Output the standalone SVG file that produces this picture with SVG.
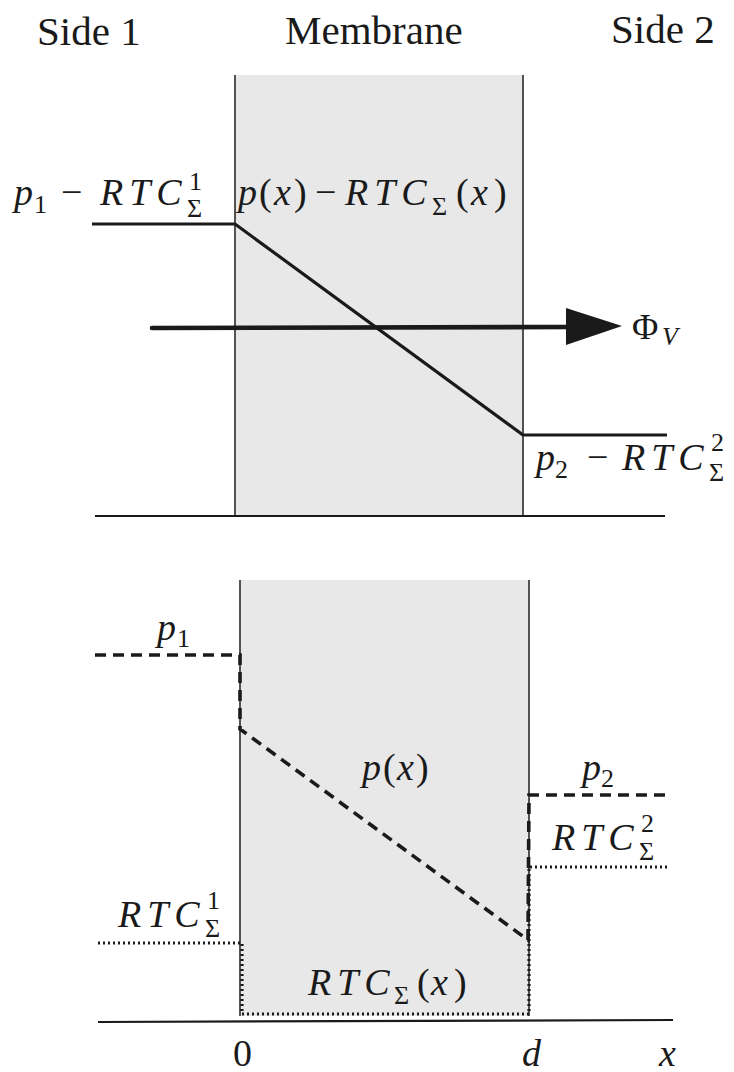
<svg xmlns="http://www.w3.org/2000/svg" width="734" height="1072" viewBox="0 0 734 1072">
<style>
text{font-family:"Liberation Serif","Times New Roman",serif;fill:#1a1a1a}
.hd{font-size:41px}
.m{font-size:38px}
.i{font-style:italic}
.rt{font-style:italic;letter-spacing:6px}
.s{font-size:26px}
.mem{fill:#e8e8e8}
.edge{stroke:#2a2a2a;stroke-width:1.6;fill:none}
.base{stroke:#1a1a1a;stroke-width:2.2;fill:none}
.solid{stroke:#1a1a1a;stroke-width:3.2;fill:none;stroke-linejoin:round}
.dash{stroke:#1a1a1a;stroke-width:3.6;fill:none;stroke-dasharray:11 7}
.dot{stroke:#1a1a1a;stroke-width:3.2;fill:none;stroke-dasharray:2 3}
</style>
<rect width="734" height="1072" fill="#ffffff"/>

<g id="headers">
<text class="hd" x="37" y="45">Side 1</text>
<text class="hd" x="285" y="44">Membrane</text>
<text class="hd" x="611" y="43">Side 2</text>
</g>

<g id="membrane-top">
<rect class="mem" x="235" y="75" width="288" height="441"/>
<line class="edge" x1="235" y1="75" x2="235" y2="516"/>
<line class="edge" x1="523" y1="75" x2="523" y2="516"/>
</g>

<g id="membrane-bottom">
<rect class="mem" x="240" y="580" width="289" height="436"/>
<line class="edge" x1="240" y1="580" x2="240" y2="1016"/>
<line class="edge" x1="529" y1="580" x2="529" y2="1016"/>
</g>

<g id="axes">
<line class="base" x1="95" y1="516" x2="665" y2="516"/>
<line class="base" x1="98" y1="1022" x2="673" y2="1020"/>
</g>

<g id="connectors">
<polyline class="solid" points="92,224 235,224 523,435 667,435"/>
<line x1="152" y1="328" x2="572" y2="327" stroke="#1a1a1a" stroke-width="4.6" stroke-linecap="round"/>
<polygon points="566,308 566,345 622,326" fill="#1a1a1a"/>
<polyline class="dash" points="95,655 240,655 240,729 528,940 529,795 670,795"/>
<polyline class="dot" points="98,943 242,943 242,1014 529,1014 529,867 667,867"/>
</g>

<g id="label-top-left">
<text class="m" y="205"><tspan class="i" x="14">p</tspan><tspan class="s" x="34" y="213">1</tspan><tspan x="61" y="205">−</tspan><tspan class="rt" x="100">RT</tspan><tspan class="i">C</tspan><tspan class="s" x="189" y="190">1</tspan><tspan class="s" x="187" y="217">Σ</tspan></text>
</g>

<g id="label-top-middle">
<text class="m" y="205"><tspan class="i" x="238">p</tspan><tspan x="259">(</tspan><tspan class="i" x="274">x</tspan><tspan x="294">)</tspan><tspan x="315">−</tspan><tspan class="rt" x="345">RT</tspan><tspan class="i">C</tspan><tspan class="s" x="432" y="215">Σ</tspan><tspan x="456" y="205">(</tspan><tspan class="i" x="471">x</tspan><tspan x="494">)</tspan></text>
</g>

<g id="label-flux">
<text class="m" y="339"><tspan x="632" style="font-size:36px">Φ</tspan><tspan class="s i" x="662" y="345">V</tspan></text>
</g>

<g id="label-top-right">
<text class="m" y="470"><tspan class="i" x="536">p</tspan><tspan class="s" x="555" y="478">2</tspan><tspan x="587" y="470">−</tspan><tspan class="rt" x="622">RT</tspan><tspan class="i">C</tspan><tspan class="s" x="711" y="451">2</tspan><tspan class="s" x="709" y="481">Σ</tspan></text>
</g>

<g id="label-p1">
<text class="m" y="640"><tspan class="i" x="157">p</tspan><tspan class="s" x="177" y="647">1</tspan></text>
</g>

<g id="label-px">
<text class="m" y="780"><tspan class="i" x="362">p</tspan><tspan x="383">(</tspan><tspan class="i" x="397">x</tspan><tspan x="416">)</tspan></text>
</g>

<g id="label-p2">
<text class="m" y="780"><tspan class="i" x="582">p</tspan><tspan class="s" x="601" y="787">2</tspan></text>
</g>

<g id="label-rtc2">
<text class="m" y="850"><tspan class="rt" x="552">RT</tspan><tspan class="i">C</tspan><tspan class="s" x="641" y="832">2</tspan><tspan class="s" x="639" y="860">Σ</tspan></text>
</g>

<g id="label-rtc1">
<text class="m" y="927"><tspan class="rt" x="118">RT</tspan><tspan class="i">C</tspan><tspan class="s" x="207" y="909">1</tspan><tspan class="s" x="205" y="937">Σ</tspan></text>
</g>

<g id="label-rtcx">
<text class="m" y="995"><tspan class="rt" x="308">RT</tspan><tspan class="i">C</tspan><tspan class="s" x="394" y="1004">Σ</tspan><tspan x="417" y="995">(</tspan><tspan class="i" x="431">x</tspan><tspan x="454">)</tspan></text>
</g>

<g id="axis-labels">
<text class="m" x="233" y="1066">0</text>
<text class="m i" x="522" y="1066">d</text>
<text class="m i" x="659" y="1066">x</text>
</g>
</svg>
